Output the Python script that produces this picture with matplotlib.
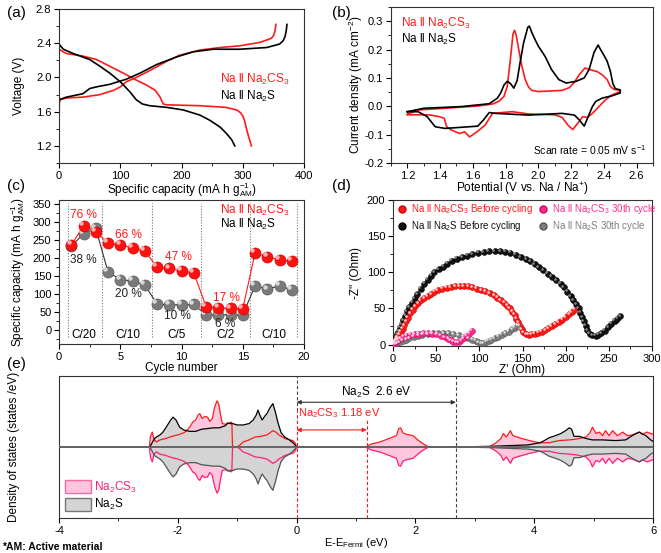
import matplotlib
matplotlib.use("Agg")
import matplotlib.pyplot as plt
from matplotlib.patches import Patch
from matplotlib.lines import Line2D
from matplotlib.ticker import MultipleLocator
from matplotlib.transforms import offset_copy

plt.rcParams['font.family'] = ['Liberation Sans', 'DejaVu Sans']
plt.rcParams['mathtext.default'] = 'regular'
plt.rcParams['axes.unicode_minus'] = False
plt.rcParams['font.size'] = 8
plt.rcParams['xtick.direction'] = 'out'
plt.rcParams['ytick.direction'] = 'out'

RED = '#FF1A1A'
PINKLINE = '#FF1F7A'

# ---- (a) charge / discharge ----
cs3_dis_cap = [0, 12, 39, 61, 83, 105, 126, 143, 157, 165, 170, 176, 230, 273, 290, 296, 300, 303, 306, 309, 312, 314]
cs3_dis_v = [2.33, 2.28, 2.25, 2.21, 2.13, 2.05, 1.97, 1.91, 1.85, 1.77, 1.69, 1.68, 1.67, 1.65, 1.62, 1.59, 1.55, 1.49, 1.40, 1.32, 1.25, 1.20]
cs3_chg_cap = [0, 0.5, 2, 12, 39, 67, 89, 100, 110, 126, 148, 176, 197, 230, 263, 295, 328, 340, 347, 351, 353, 354]
cs3_chg_v = [1.42, 1.70, 1.74, 1.76, 1.77, 1.80, 1.85, 1.89, 1.95, 2.00, 2.08, 2.19, 2.26, 2.32, 2.35, 2.37, 2.41, 2.44, 2.46, 2.50, 2.56, 2.62]
s_dis_cap = [0, 7, 23, 50, 67, 83, 100, 116, 126, 136, 148, 176, 203, 230, 246, 263, 274, 282, 287]
s_dis_v = [2.39, 2.33, 2.28, 2.21, 2.13, 2.05, 1.95, 1.83, 1.74, 1.69, 1.67, 1.65, 1.62, 1.56, 1.50, 1.42, 1.34, 1.27, 1.20]
s_chg_cap = [0, 12, 39, 50, 61, 83, 110, 132, 159, 192, 219, 252, 295, 339, 360, 366, 369, 371, 372]
s_chg_v = [1.74, 1.77, 1.81, 1.87, 1.89, 1.92, 1.98, 2.05, 2.15, 2.24, 2.30, 2.33, 2.33, 2.35, 2.39, 2.43, 2.48, 2.55, 2.62]

# ---- (b) cyclic voltammetry ----
cs3_cv_pot = [1.2, 1.265, 1.43, 1.63, 1.72, 1.76, 1.79, 1.81, 1.83, 1.845, 1.855, 1.865, 1.88, 1.9, 1.92, 1.94, 1.96, 2.0, 2.145,
              2.19, 2.22, 2.25, 2.285, 2.31, 2.33, 2.36, 2.39, 2.42, 2.44, 2.46, 2.5,
              2.5, 2.45, 2.41, 2.37, 2.33, 2.3, 2.27, 2.24, 2.21, 2.18, 2.145, 2.1, 1.94, 1.84, 1.72, 1.675, 1.625,
              1.58, 1.55, 1.52, 1.47, 1.44, 1.425, 1.39, 1.33, 1.2]
cs3_cv_cur = [-0.028, -0.013, -0.007, 0.001, 0.008, 0.018, 0.035, 0.07, 0.17, 0.255, 0.268, 0.25, 0.2, 0.14, 0.094, 0.068, 0.056, 0.052, 0.056,
              0.066, 0.085, 0.112, 0.135, 0.13, 0.127, 0.122, 0.111, 0.094, 0.07, 0.06, 0.056,
              0.052, 0.04, 0.023, -0.001, -0.025, -0.039, -0.037, -0.06, -0.082, -0.066, -0.039, -0.03, -0.027, -0.019, -0.025, -0.066, -0.09,
              -0.108, -0.09, -0.096, -0.084, -0.072, -0.042, -0.036, -0.03, -0.03]
s_cv_pot = [1.2, 1.3, 1.53, 1.7, 1.75, 1.77, 1.79, 1.81, 1.83, 1.85, 1.87, 1.89, 1.91, 1.935, 1.945, 1.96, 1.98, 2.0, 2.04, 2.08,
            2.125, 2.17, 2.23, 2.28, 2.31, 2.34, 2.365, 2.38, 2.4, 2.42, 2.44, 2.455, 2.47, 2.5,
            2.5, 2.45, 2.39, 2.35, 2.33, 2.3, 2.28, 2.25, 2.22, 2.145, 1.94, 1.74, 1.7, 1.665, 1.63, 1.53, 1.43, 1.37,
            1.32, 1.265, 1.2]
s_cv_cur = [-0.019, -0.007, -0.001, 0.009, 0.029, 0.047, 0.075, 0.088, 0.08, 0.064, 0.09, 0.16, 0.224, 0.278, 0.283, 0.26, 0.235, 0.212, 0.177, 0.13,
            0.094, 0.082, 0.088, 0.1, 0.13, 0.19, 0.216, 0.2, 0.18, 0.159, 0.123, 0.08, 0.062, 0.058,
            0.047, 0.037, 0.029, 0.017, -0.001, -0.042, -0.07, -0.048, -0.031, -0.025, -0.031, -0.025, -0.022, -0.048, -0.07, -0.074, -0.078, -0.072,
            -0.036, -0.019, -0.019]

# ---- (c) rate capability ----
cycles = list(range(1, 20))
cs3_rate = [235, 289, 272, 240, 235, 227, 218, 174, 170, 163, 158, 64, 60, 59, 58, 213, 202, 194, 190]
s_rate = [232, 266, 281, 160, 139, 135, 124, 71, 69, 69, 70, 41, 41, 41, 41, 122, 112, 122, 110]
rate_bounds = [0.7, 3.5, 7.6, 11.6, 15.6, 19.4]
rate_names = ['C/20', 'C/10', 'C/5', 'C/2', 'C/10']
rate_name_x = [2.0, 5.6, 9.6, 13.55, 17.5]
ret_cs3 = ['76 %', '66 %', '47 %', '17 %']
ret_cs3_xy = [(2.0, 319), (5.66, 263), (9.74, 203), (13.7, 87)]
ret_s = ['38 %', '20 %', '10 %', '6 %']
ret_s_xy = [(2.0, 194), (5.66, 99), (9.7, 39), (13.55, 16)]

# ---- (d) impedance ----
cs3_before_re = [2, 3, 4, 5, 7, 9, 11, 13, 15, 17, 20, 23, 26, 29, 32, 36, 40, 44, 48, 52, 57, 62, 67, 72, 77, 82, 87, 92, 97, 102,
                 107, 112, 117, 121, 125, 129, 132, 135, 138, 141, 143, 145, 147, 149, 151, 154, 157, 160, 164, 168, 172, 176, 180,
                 184, 188, 192, 196, 200, 204, 207, 210]
cs3_before_im = [1, 4, 7, 10, 14, 18, 22, 27, 32, 37, 43, 48, 53, 57, 61, 64, 67, 70, 73, 75, 77, 78.5, 79.5, 80.5, 81, 81, 80.5, 79, 77, 75.5,
                 73.5, 71, 68, 65, 61.5, 58, 54, 50, 45.5, 41, 36, 31, 26, 21.5, 17, 14, 13.5, 14, 15, 16.5, 18, 20, 22.5,
                 25, 28, 31, 34.5, 38, 42, 45, 48]
s_before_re = [2, 3, 4, 5, 6, 8, 10, 12, 14, 16, 19, 22, 25, 28, 32, 36, 40, 44, 48, 53, 58, 63, 68, 74, 80, 86, 92, 99, 105, 111,
               118, 124, 130, 136, 142, 148, 154, 159, 164, 169, 174, 179, 184, 189, 194, 198, 202, 206, 209, 212, 215, 217, 219,
               221, 223, 225, 228, 231, 235, 238, 241, 245, 249, 253, 257, 260, 263]
s_before_im = [2, 6, 10, 14, 18, 23, 28, 34, 40, 46, 52, 58, 64, 70, 77, 84, 90, 95, 100, 104, 108, 112, 116, 119, 121, 123, 125, 127, 128, 129,
               129.5, 129, 128.5, 127, 124, 121, 118, 115, 111, 107, 103, 98, 94, 89, 84, 79, 73, 67, 61, 56, 50, 44, 38,
               32, 26, 20, 15, 13, 12.5, 13.5, 15.5, 19, 24, 29, 33, 36, 39]
cs3_30_re = [1, 2, 4, 6, 9, 12, 16, 20, 25, 30, 35, 40, 45, 50, 55, 60, 64, 67, 70, 73, 76, 79, 82, 85, 88, 91]
cs3_30_im = [1, 3, 5, 7, 9, 11, 12.5, 13.5, 14.5, 15, 15.5, 15.5, 15, 14, 12.5, 10.5, 8, 6, 4, 3, 3.5, 6, 9, 12, 15, 19]
s_30_re = [3, 5, 8, 11, 15, 19, 24, 29, 34, 40, 46, 52, 58, 64, 70, 76, 82, 87, 92, 96, 99, 102, 105, 108, 111, 114, 118,
           122, 126, 130, 134, 138, 141, 144]
s_30_im = [0.5, 1.5, 3, 5, 7, 9, 11, 12.5, 13.5, 14.5, 15.5, 16, 16, 15.5, 14.5, 13, 11, 9, 7, 5, 3, 1.5, 2, 4, 5.5, 7, 9,
           11, 13.5, 15.5, 18, 21, 23, 26]

# ---- (e) density of states (spin-up half; spin-down is the mirror) ----
dos_s_e = [-4.0, -2.5, -2.47, -2.42, -2.38, -2.3, -2.25, -2.18, -2.12, -2.08, -2.03, -1.97, -1.9, -1.8, -1.7, -1.6, -1.5, -1.4,
           -1.3, -1.2, -1.16, -1.12, -1.08, -1.0, -0.9, -0.8, -0.73, -0.68, -0.65, -0.62, -0.58, -0.54, -0.5, -0.45, -0.4,
           -0.36, -0.31, -0.26, -0.2, -0.12, -0.05, 0.0, 2.3, 3.0, 3.3, 3.6, 3.9, 4.1, 4.17, 4.25, 4.36, 4.45, 4.53, 4.59,
           4.63, 4.67, 4.76, 4.87, 4.98, 5.15, 5.37, 5.54, 5.65, 5.72, 5.77, 5.83, 5.88, 5.96, 6.0]
dos_s = [0, 0, 0, 0.08, 0.13, 0.17, 0.21, 0.3, 0.38, 0.42, 0.38, 0.28, 0.24, 0.22, 0.22, 0.25, 0.26, 0.27,
         0.27, 0.30, 0.34, 0.33, 0.33, 0.31, 0.31, 0.33, 0.38, 0.45, 0.52, 0.45, 0.38, 0.43, 0.47, 0.55, 0.61,
         0.5, 0.33, 0.2, 0.14, 0.1, 0.05, 0, 0, 0.005, 0.01, 0.02, 0.03, 0.06, 0.09, 0.13, 0.16, 0.19, 0.23, 0.27,
         0.25, 0.15, 0.15, 0.12, 0.10, 0.10, 0.09, 0.10, 0.16, 0.19, 0.21, 0.18, 0.16, 0.1, 0.08]
dos_cs3_e = [-4.0, -2.48, -2.46, -2.43, -2.4, -2.36, -2.3, -2.2, -2.1, -2.0, -1.9, -1.85, -1.8, -1.75, -1.7, -1.66, -1.63, -1.59,
             -1.55, -1.5, -1.46, -1.42, -1.38, -1.34, -1.31, -1.28, -1.25, -1.2, -1.15, -1.1, -1.09, -1.08, -1.06, -1.0,
             -0.95, -0.9, -0.8, -0.7, -0.6, -0.5, -0.45, -0.4, -0.35, -0.3, -0.2, -0.12, -0.06, -0.02, 0.0, 1.16, 1.25,
             1.4, 1.56, 1.68, 1.72, 1.75, 1.79, 1.84, 1.96, 2.04, 2.12, 2.2, 2.25, 3.24, 3.36, 3.44, 3.48, 3.53, 3.6,
             3.64, 3.75, 3.92, 4.08, 4.25, 4.42, 4.59, 4.7, 4.87, 4.94, 4.98, 5.04, 5.1, 5.15, 5.2, 5.26, 5.32, 5.4,
             5.49, 5.57, 5.65, 5.77, 5.82, 5.9, 5.96, 6.0]
dos_cs3 = [0, 0, 0.15, 0.21, 0.1, 0.07, 0.1, 0.12, 0.15, 0.17, 0.2, 0.23, 0.28, 0.35, 0.38, 0.45, 0.47, 0.40,
           0.43, 0.42, 0.36, 0.4, 0.56, 0.65, 0.6, 0.45, 0.33, 0.32, 0.33, 0.35, 0.34, 0.02, 0.0, 0.0,
           0.03, 0.07, 0.1, 0.14, 0.15, 0.17, 0.2, 0.23, 0.21, 0.17, 0.12, 0.1, 0.09, 0.05, 0, 0, 0.04,
           0.07, 0.12, 0.16, 0.26, 0.27, 0.2, 0.18, 0.16, 0.1, 0.05, 0.01, 0, 0, 0.06, 0.12, 0.19, 0.14, 0.23,
           0.16, 0.13, 0.09, 0.06, 0.06, 0.09, 0.10, 0.11, 0.14, 0.2, 0.28, 0.19, 0.21, 0.16, 0.23, 0.16, 0.23, 0.16,
           0.21, 0.16, 0.17, 0.21, 0.18, 0.21, 0.19, 0.18]
gap_cs3 = 1.18
gap_s = 2.68


def style(ax, ylab_x):
    for s in ax.spines.values():
        s.set_linewidth(0.8)
        s.set_color('#333333')
    ax.tick_params(which='major', length=3.5, width=0.8, labelsize=8, pad=2, top=False, right=False)
    ax.tick_params(which='minor', length=2, width=0.6, top=False, right=False)
    ax.yaxis.set_label_coords(ylab_x, 0.5)


def balls(ax, x, y, color, light, edge, ms, hl, zorder=3):
    ax.plot(x, y, 'o', ms=ms, mfc=color, mec=edge, mew=0.4, zorder=zorder)
    tr = offset_copy(ax.transData, fig=ax.figure, x=-ms * 0.25, y=ms * 0.25, units='points')
    ax.plot(x, y, 'o', ms=ms * hl, mfc=light, mec='none', transform=tr, zorder=zorder + 0.1)


fig = plt.figure(figsize=(6.61, 5.53), dpi=100)

# ---- (a) ----
ax = fig.add_axes([0.0893, 0.7052, 0.3707, 0.2785])
ax.plot(cs3_dis_cap, cs3_dis_v, color=RED, lw=1.2)
ax.plot(cs3_chg_cap, cs3_chg_v, color=RED, lw=1.2)
ax.plot(s_dis_cap, s_dis_v, color='black', lw=1.2)
ax.plot(s_chg_cap, s_chg_v, color='black', lw=1.2)
ax.set_xlim(0, 400)
ax.set_ylim(1.0, 2.8)
ax.xaxis.set_major_locator(MultipleLocator(100))
ax.xaxis.set_minor_locator(MultipleLocator(50))
ax.yaxis.set_minor_locator(MultipleLocator(0.2))
ax.set_yticks([1.2, 1.6, 2.0, 2.4, 2.8])
ax.set_xlabel('Specific capacity (mA h g$^{-1}_{AM}$)', fontsize=8.5, labelpad=0)
ax.set_ylabel('Voltage (V)', fontsize=8.5)
ax.text(0.655, 0.52, 'Na ll Na$_2$CS$_3$', color=RED, fontsize=8.5, transform=ax.transAxes)
ax.text(0.655, 0.41, 'Na ll Na$_2$S', color='black', fontsize=8.5, transform=ax.transAxes)
style(ax, -0.14)
fig.text(0.01, 0.97, '(a)', fontsize=11)

# ---- (b) ----
ax = fig.add_axes([0.5915, 0.7052, 0.3964, 0.2821])
ax.plot(cs3_cv_pot, cs3_cv_cur, color=RED, lw=1.2)
ax.plot(s_cv_pot, s_cv_cur, color='black', lw=1.2)
ax.set_xlim(1.1, 2.7)
ax.set_ylim(-0.2, 0.35)
ax.xaxis.set_minor_locator(MultipleLocator(0.1))
ax.set_xticks([1.2, 1.4, 1.6, 1.8, 2.0, 2.2, 2.4, 2.6])
ax.yaxis.set_minor_locator(MultipleLocator(0.05))
ax.set_yticks([-0.2, -0.1, 0.0, 0.1, 0.2, 0.3])
ax.set_xlabel('Potential (V vs. Na / Na$^{+}$)', fontsize=8.5, labelpad=0)
ax.set_ylabel('Current density (mA cm$^{-2}$)', fontsize=8.5)
ax.text(0.04, 0.87, 'Na ll Na$_2$CS$_3$', color=RED, fontsize=8.5, transform=ax.transAxes)
ax.text(0.04, 0.77, 'Na ll Na$_2$S', color='black', fontsize=8.5, transform=ax.transAxes)
ax.text(0.975, 0.05, 'Scan rate = 0.05 mV s$^{-1}$', fontsize=7.5, ha='right', transform=ax.transAxes)
style(ax, -0.10)
fig.text(0.503, 0.97, '(b)', fontsize=11)

# ---- (c) ----
ax = fig.add_axes([0.0893, 0.3779, 0.3707, 0.2604])
for b in rate_bounds:
    ax.plot([b, b], [-20, 352], color='#777777', lw=0.8, ls=(0, (1, 1.5)), zorder=1)
ax.plot(cycles, cs3_rate, color=RED, lw=0.8, zorder=2)
ax.plot(cycles, s_rate, color='#333333', lw=0.8, zorder=2)
balls(ax, cycles, s_rate, '#7A7A7A', '#D8D8D8', '#505050', 8, 0.4)
balls(ax, cycles, cs3_rate, '#FF1010', '#FFB0B0', '#C00000', 8, 0.4, zorder=4)
for t, (x, y) in zip(ret_cs3, ret_cs3_xy):
    ax.text(x, y, t, color=RED, fontsize=8.5, ha='center', va='center')
for t, (x, y) in zip(ret_s, ret_s_xy):
    ax.text(x, y, t, color='#222222', fontsize=8.5, ha='center', va='center')
for t, x in zip(rate_names, rate_name_x):
    ax.text(x, -14, t, fontsize=8.5, ha='center', va='center')
ax.text(13.1, 332, 'Na ll Na$_2$CS$_3$', color=RED, fontsize=8.5, va='center')
ax.text(13.1, 292, 'Na ll Na$_2$S', color='black', fontsize=8.5, va='center')
ax.set_xlim(0, 20)
ax.set_ylim(-40, 360)
ax.xaxis.set_major_locator(MultipleLocator(5))
ax.xaxis.set_minor_locator(MultipleLocator(2.5))
ax.set_yticks(range(0, 351, 50))
ax.yaxis.set_minor_locator(MultipleLocator(25))
ax.set_xlabel('Cycle number', fontsize=8.5, labelpad=0)
ax.set_ylabel('Specific capacity (mA h g$^{-1}_{AM}$)', fontsize=8.5)
style(ax, -0.13)
fig.text(0.01, 0.657, '(c)', fontsize=11)

# ---- (d) ----
ax = fig.add_axes([0.5946, 0.3743, 0.3918, 0.2640])
balls(ax, s_before_re, s_before_im, '#111111', '#888888', '#000000', 4.2, 0.45)
balls(ax, cs3_before_re, cs3_before_im, '#FF1A1A', '#FFD0D0', '#D00000', 4.2, 0.45)
balls(ax, s_30_re, s_30_im, '#7F7F7F', '#DDDDDD', '#555555', 4.2, 0.45)
balls(ax, cs3_30_re, cs3_30_im, '#FF2D8A', '#FFD0E6', '#D0006A', 4.2, 0.45)
handles = [Line2D([], [], ls='none', marker='o', ms=5, mfc='#FF1A1A', mec='#D00000'),
           Line2D([], [], ls='none', marker='o', ms=5, mfc='#111111', mec='#000000'),
           Line2D([], [], ls='none', marker='o', ms=5, mfc='#FF2D8A', mec='#D0006A'),
           Line2D([], [], ls='none', marker='o', ms=5, mfc='#7F7F7F', mec='#555555')]
labels = ['Na ll Na$_2$CS$_3$ Before cycling', 'Na ll Na$_2$S Before cycling',
          'Na ll Na$_2$CS$_3$ 30th cycle', 'Na ll Na$_2$S 30th cycle']
leg = ax.legend(handles, labels, ncol=2, loc='upper left', bbox_to_anchor=(-0.005, 1.025), frameon=False,
                fontsize=7, handletextpad=0.35, columnspacing=0.6, labelspacing=0.3, handlelength=1.0,
                borderaxespad=0.2)
for txt, c in zip(leg.get_texts(), ['#FF1A1A', '#111111', '#FF2D8A', '#7F7F7F']):
    txt.set_color(c)
ax.set_xlim(0, 300)
ax.set_ylim(-2, 200)
ax.xaxis.set_major_locator(MultipleLocator(50))
ax.xaxis.set_minor_locator(MultipleLocator(25))
ax.yaxis.set_major_locator(MultipleLocator(50))
ax.yaxis.set_minor_locator(MultipleLocator(25))
ax.set_xlabel("Z' (Ohm)", fontsize=8.5, labelpad=0)
ax.set_ylabel('-Z" (Ohm)', fontsize=8.5)
style(ax, -0.12)
fig.text(0.503, 0.657, '(d)', fontsize=11)

# ---- (e) ----
ax = fig.add_axes([0.0893, 0.0633, 0.8986, 0.2568])
neg_cs3 = [-v for v in dos_cs3]
neg_s = [-v for v in dos_s]
ax.fill_between(dos_cs3_e, 0, dos_cs3, color='#FFC6DD', lw=0, zorder=1)
ax.fill_between(dos_cs3_e, 0, neg_cs3, color='#FFC6DD', lw=0, zorder=1)
ax.fill_between(dos_s_e, 0, dos_s, color='#D4D4D4', lw=0, zorder=2)
ax.fill_between(dos_s_e, 0, neg_s, color='#D4D4D4', lw=0, zorder=2)
ax.plot(dos_cs3_e, dos_cs3, color=RED, lw=0.9, zorder=3)
ax.plot(dos_cs3_e, neg_cs3, color=PINKLINE, lw=0.9, zorder=3)
ax.plot(dos_s_e, dos_s, color='black', lw=0.9, zorder=4)
ax.plot(dos_s_e, neg_s, color='#555555', lw=0.9, zorder=4)
ax.axhline(0, color='#666666', lw=1.4, zorder=5)

ax.plot([0, 0], [0.5, 1], color='#444444', lw=0.8, ls=(0, (3, 2)), zorder=6)
ax.plot([0, 0], [-1, 0.5], color=RED, lw=0.8, ls=(0, (3, 2)), zorder=6)
ax.plot([gap_cs3, gap_cs3], [-1, 0.38], color=RED, lw=0.8, ls=(0, (3, 2)), zorder=6)
ax.plot([gap_s, gap_s], [-1, 1], color='#444444', lw=0.8, ls=(0, (3, 2)), zorder=6)
ax.annotate('', xy=(0, 0.63), xytext=(gap_s, 0.63),
            arrowprops=dict(arrowstyle='<|-|>', color='#333333', lw=0.8, mutation_scale=6, shrinkA=0, shrinkB=0))
ax.annotate('', xy=(0, 0.24), xytext=(gap_cs3, 0.24),
            arrowprops=dict(arrowstyle='<|-|>', color=RED, lw=0.8, mutation_scale=6, shrinkA=0, shrinkB=0))
ax.text(gap_s / 2, 0.77, 'Na$_2$S  2.6 eV', fontsize=8.5, ha='center', va='center')
ax.text(0.03, 0.48, 'Na$_2$CS$_3$ 1.18 eV', fontsize=8, color=RED, ha='left', va='center')

leg = ax.legend([Patch(facecolor='#FFC6DD', edgecolor='#FF66A3'), Patch(facecolor='#D4D4D4', edgecolor='#777777')],
                ['Na$_2$CS$_3$', 'Na$_2$S'], loc='lower left', bbox_to_anchor=(-0.008, -0.035), frameon=False,
                fontsize=8.5, handlelength=2.2, handleheight=1.3, handletextpad=0.3, labelspacing=0.2)
leg.get_texts()[0].set_color(PINKLINE)
ax.set_xlim(-4, 6)
ax.set_ylim(-1, 1)
ax.set_yticks([])
ax.xaxis.set_major_locator(MultipleLocator(2))
ax.xaxis.set_minor_locator(MultipleLocator(1))
ax.set_xlabel('E-E$_{Fermi}$ (eV)', fontsize=8, labelpad=0)
ax.set_ylabel('Density of states (states /eV)', fontsize=8.5)
style(ax, -0.066)
fig.text(0.01, 0.335, '(e)', fontsize=11)
fig.text(0.003, 0.006, '*AM: Active material', fontsize=7.5, fontweight='bold')

fig.savefig('out.png', dpi=100)
